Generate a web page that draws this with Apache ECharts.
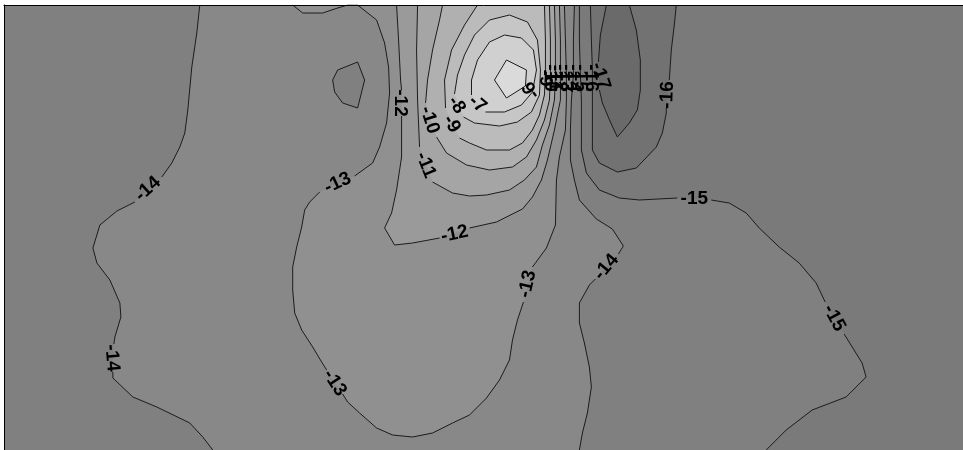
<!DOCTYPE html>
<html>
<head>
<meta charset="utf-8">
<script src="https://cdn.jsdelivr.net/npm/echarts@6/dist/echarts.min.js"></script>
<style>
  html, body { margin: 0; background: #fff; }
  #contourChart { width: 963px; height: 450px; }
</style>
</head>
<body>
<div id="contourChart"></div>
<script>
// contour levels, and the grey of each band (band below levels[i] is bandGreys[i], last one is above -6)
const levels = [-17, -16, -15, -14, -13, -12, -11, -10, -9, -8, -7, -6];
const bandGreys = ['#6a6a6a', '#727272', '#7a7a7a', '#808080', '#888888', '#909090', '#9a9a9a',
  '#a5a5a5', '#b0b0b0', '#bbbbbb', '#c6c6c6', '#d0d0d0', '#dadada'];

// map extent
const xMax = 96;
const yMax = 44.5;

// contour lines [x, y], null = gap for a label
const c14West = [[19.6,44.5],[19.3,41.7],[18.8,38.3],[18.4,34.0],[18.1,31.7],[17.6,30.3],[16.8,28.7],[15.8,27.3],null,
  [13.1,24.8],[11.3,23.9],[9.6,22.5],[8.9,20.2],[9.3,18.7],[10.6,17.0],[11.6,14.7],[11.7,13.3],[11.1,11.3],[11.0,10.6],null,
  [10.9,7.8],[10.9,7.2],[12.9,5.3],[15.3,4.3],[18.6,2.7],[19.9,1.3],[20.9,0]];
const c14East = [[57.1,44.5],[57.0,41.0],[57.0,37.5],[56.8,35.0],[56.7,32.0],[56.7,29.0],[57.1,27.0],[57.6,25.0],[59.3,23.1],
  [60.9,22.1],[62.0,20.4],[61.5,19.6],null,[59.2,17.1],[58.6,16.5],[57.6,14.7],[57.6,12.7],[58.1,10.7],[58.6,8.3],[58.8,6.3],
  [58.4,3.7],[57.9,1.7],[57.6,0]];
const c15 = [[57.6,44.5],[57.6,41.0],[57.7,37.5],[57.8,35.0],[57.8,30.0],[58.3,27.7],[59.6,26.0],[61.6,25.2],[63.6,25.0],
  [67.4,25.2],null,[70.8,25.0],[72.6,24.7],[74.3,23.7],[75.6,22.2],[77.6,20.3],[79.6,18.7],[81.3,16.7],[82.2,14.8],null,
  [84.1,11.6],[84.6,10.8],[85.9,8.7],[86.3,7.3],[84.3,5.3],[80.9,4.0],[78.3,2.0],[76.3,0]];
const c16 = [[58.7,44.5],[58.8,41.0],[58.9,38.0],[58.9,35.0],[58.9,30.0],[59.6,28.7],[61.4,27.8],[63.3,28.2],[65.3,30.3],
  [65.9,31.7],[66.3,33.7],[66.3,34.2],null,[66.6,37.0],[66.8,40.0],[67.1,42.5],[67.3,44.5]];
const c17 = [[60.3,44.5],[59.7,41.5],[59.5,38.8],null,[59.6,36.0],[59.9,34.7],[60.7,32.8],[61.4,31.3],[62.6,32.7],
  [63.4,34.0],[63.7,36.0],[63.7,39.0],[63.3,42.0],[62.6,44.5]];
const c13 = [[28.9,44.5],[29.9,43.7],[31.9,43.7],[33.4,44.2],[34.4,44.5],[35.4,44.5],[37.3,43.0],[38.1,40.7],[38.5,38.3],
  [38.6,35.7],[38.3,32.7],[37.6,30.3],[36.9,28.7],[35.1,27.4],null,[31.6,25.8],[30.6,24.8],[30.1,24.0],[29.8,22.3],
  [29.3,20.3],[28.9,18.3],[28.9,16.0],[29.1,13.7],[29.8,12.0],[30.9,10.3],[31.8,8.8],[32.3,8.0],null,[33.9,5.6],[34.4,4.8],
  [35.6,3.7],[37.3,2.2],[38.9,1.5],[40.9,1.3],[42.9,1.7],[44.9,2.7],[46.6,3.5],[48.3,5.2],[49.6,7.0],[50.6,9.0],[50.9,11.0],
  [51.4,13.0],[52.0,14.8],null,[52.9,18.3],[54.3,20.2],[55.2,22.5],[55.3,27.0],[55.6,29.3],[56.2,32.0],[56.3,35.0],
  [56.3,37.5],[56.2,41.0],[56.1,44.5]];
const island14 = [[35.4,38.8],[36.1,37.0],[35.4,34.2],[33.9,34.7],[33.1,35.8],[32.9,37.0],[33.4,38.0],[35.4,38.8]];
const c12 = [[39.3,44.5],[39.5,41.0],[39.7,37.0],[39.8,36.0],null,[39.8,33.4],[39.8,29.3],[39.3,26.0],[38.8,23.7],[38.1,22.2],
  [39.1,20.5],[40.9,20.7],[43.6,21.2],null,[46.6,22.2],[49.3,22.8],[51.9,24.1],[52.9,25.3],[53.8,27.0],[54.4,29.0],
  [55.1,32.0],[55.7,35.0],[55.7,37.5],[55.7,41.0],[55.6,44.5]];
const c11 = [[41.4,44.5],[41.3,40.0],[41.4,35.0],[41.6,30.3],null,[42.9,26.8],[44.9,25.7],[46.6,25.4],[48.3,25.5],[50.6,26.0],
  [52.1,27.0],[53.3,28.3],[53.9,30.5],[54.6,32.5],[55.1,35.0],[55.2,37.5],[55.2,41.0],[55.1,44.5]];
const c10 = [[43.9,44.5],[43.6,43.0],[42.9,40.0],[42.4,37.0],[42.2,34.7],null,[43.3,31.3],[44.3,29.7],[46.3,28.5],[48.6,28.0],
  [50.9,28.3],[52.3,29.3],[53.3,31.0],[54.1,33.0],[54.6,35.0],[54.7,37.5],[54.7,41.0],[54.6,44.5]];
const c9 = [[47.4,44.5],[46.1,42.5],[44.8,40.0],[44.1,37.0],[44.2,34.2],null,[45.6,31.2],[46.6,30.7],[48.3,30.0],[50.6,30.0],
  [51.9,30.7],[52.9,32.0],[53.6,33.5],[54.1,35.5],[54.2,38.0],[54.2,41.0],[54.1,44.5]];
const c8 = [[45.1,35.6],[45.4,37.5],[46.1,39.5],[47.1,41.5],[48.6,43.0],[50.6,43.5],[52.4,42.8],[53.4,41.0],[53.7,38.0],
  [53.6,35.5],[52.8,33.8],[51.4,32.8],[49.6,32.4],[47.1,32.7],[46.0,33.3]];
const c7 = [[46.8,35.5],[46.8,37.0],[47.4,39.0],[48.6,40.8],[50.1,41.5],[51.8,41.2],[53.0,40.0],[53.3,38.0],[52.9,35.8],
  [51.8,34.5],[50.1,33.8],[48.2,33.8]];
const c6 = [[50.3,39.0],[52.3,38.0],[52.2,36.4],[50.3,35.2],[49.1,37.0],[50.3,39.0]];

// contour labels: text, x, y, rotation (deg)
const contourLabels = [
  ['-14', 14.4, 26.1, 42], ['-14', 10.8, 9.2, -85], ['-14', 60.3, 18.3, 50],
  ['-15', 69.1, 25.1, 0], ['-15', 83.1, 13.2, -62],
  ['-16', 66.4, 35.5, 88], ['-17', 59.7, 37.4, -72],
  ['-13', 33.4, 26.7, 25], ['-13', 33.1, 6.7, -57], ['-13', 52.4, 16.6, 77],
  ['-12', 39.7, 34.7, -90], ['-12', 45.1, 21.6, 12],
  ['-11', 42.2, 28.5, -68], ['-10', 42.6, 33.0, -72], ['-9', 44.8, 32.6, -60],
  ['-8', 45.3, 34.5, -55], ['-7', 47.4, 34.6, -40], ['-6', 52.8, 36.0, 125],
  // crowded labels where the lines bunch together
  ['-9', 54.2, 37.2, -90], ['-10', 54.7, 37.2, -90], ['-11', 55.2, 37.2, -90], ['-12', 55.7, 37.2, -90],
  ['-13', 56.3, 37.2, -90], ['-14', 57.0, 37.2, -90], ['-15', 57.7, 37.2, -90], ['-16', 58.8, 37.2, -90]
];

function greyFor(lo) {
  return bandGreys[levels.indexOf(lo) + 1];
}

// filled areas, painted in order (lower bound of band, outline)
const fills = [
  [-14, c14West.concat(c14East.slice().reverse())],
  [-16, c15.concat([[xMax, 0], [xMax, yMax]])],
  [-17, c16],
  [-18, c17],
  [-13, c13],
  [-15, island14],
  [-12, c12], [-11, c11], [-10, c10], [-9, c9], [-8, c8], [-7, c7], [-6, c6]
].map(function (f) {
  return { color: greyFor(f[0]), ring: f[1].filter(function (p) { return p; }) };
});

const contours = [c14West, c14East, c15, c16, c17, c13, island14, c12, c11, c10, c9, c8, c7, c6];

function splitAtGaps(line) {
  const parts = [[]];
  line.forEach(function (p) {
    if (p === null) parts.push([]);
    else parts[parts.length - 1].push(p);
  });
  return parts.filter(function (s) { return s.length > 1; });
}

const lineSeries = [];
contours.forEach(function (c) {
  splitAtGaps(c).forEach(function (seg) {
    lineSeries.push({
      type: 'line',
      data: seg,
      symbol: 'none',
      smooth: false,
      silent: true,
      z: 3,
      lineStyle: { color: '#1c1c1c', width: 1 }
    });
  });
});

const chart = echarts.init(document.getElementById('contourChart'));

const option = {
  animation: false,
  backgroundColor: '#fff',
  grid: { left: 4, top: 5, width: 960, height: 445, show: true, backgroundColor: greyFor(-15), borderWidth: 0 },
  xAxis: {
    type: 'value', min: 0, max: xMax, position: 'top', z: 20,
    axisLine: { show: true, onZero: false, lineStyle: { color: '#000', width: 1 } },
    axisTick: { show: false }, axisLabel: { show: false }, splitLine: { show: false }
  },
  yAxis: {
    type: 'value', min: 0, max: yMax, z: 20,
    axisLine: { show: true, onZero: false, lineStyle: { color: '#000', width: 1 } },
    axisTick: { show: false }, axisLabel: { show: false }, splitLine: { show: false }
  },
  series: [
    {
      type: 'custom',
      silent: true,
      clip: true,
      z: 1,
      data: fills.map(function (f) { return f.ring[0]; }),
      renderItem: function (params, api) {
        const f = fills[params.dataIndex];
        return {
          type: 'polygon',
          shape: { points: f.ring.map(function (p) { return api.coord(p); }) },
          style: { fill: f.color, stroke: null }
        };
      }
    }
  ].concat(lineSeries).concat([
    {
      type: 'custom',
      silent: true,
      z: 4,
      data: contourLabels.map(function (l) { return [l[1], l[2]]; }),
      renderItem: function (params, api) {
        const l = contourLabels[params.dataIndex];
        const pt = api.coord([l[1], l[2]]);
        return {
          type: 'text',
          x: pt[0],
          y: pt[1],
          rotation: l[3] * Math.PI / 180,
          style: {
            text: l[0],
            fill: '#000',
            fontSize: 19,
            fontWeight: 'bold',
            fontFamily: 'Liberation Sans',
            align: 'center',
            verticalAlign: 'middle'
          }
        };
      }
    }
  ])
};

chart.setOption(option);
</script>
</body>
</html>
